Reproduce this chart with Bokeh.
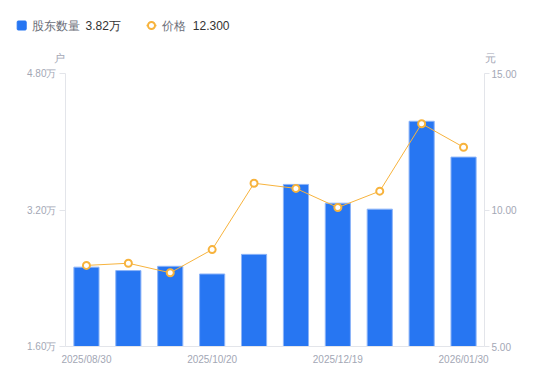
from bokeh.plotting import figure
from bokeh.models import Range1d, LinearAxis, FixedTicker, PrintfTickFormatter, ColumnDataSource
from bokeh.core.properties import value
from bokeh.embed import file_html
from bokeh.resources import INLINE

dates = ["2025/08/30", "2025/09/10", "2025/09/30", "2025/10/20", "2025/10/31",
         "2025/11/20", "2025/12/19", "2025/12/31", "2026/01/20", "2026/01/30"]
holders = [2.53, 2.49, 2.54, 2.45, 2.68, 3.50, 3.28, 3.21, 4.24, 3.82]   # 万户
price = [7.97, 8.05, 7.70, 8.55, 10.98, 10.79, 10.09, 10.69, 13.16, 12.30]
shown_ticks = [0, 3, 6, 9]
left_ticks = [1.6, 3.2, 4.8]
right_ticks = [5, 10, 15]

FONT = "Liberation Sans"
BLUE = "#2776F2"
ORANGE = "#F7B33D"
AXIS = "#E3E5EA"
LABEL = "#A3A7B5"
W = 534
TOP_H = 66

# ---- legend / unit strip (its own root) ----
lg = figure(width=W, height=TOP_H, output_backend="svg", toolbar_location=None,
            x_range=Range1d(0, W), y_range=Range1d(TOP_H, 0),
            x_axis_type=None, y_axis_type=None,
            min_border=0, outline_line_color=None)
lg.grid.visible = False
lg.rect(x=[21.2], y=[25], width=9, height=9, width_units="screen", height_units="screen",
        fill_color=BLUE, line_color=BLUE, border_radius=1)
lg.text(x=[31], y=[25], text=["股东数量"], text_font=value(FONT), text_font_size="12px",
        text_color="#6b6e78", text_baseline="middle")
lg.text(x=[85], y=[25], text=["3.82万"], text_font=value(FONT), text_font_size="12px",
        text_color="#333333", text_baseline="middle")
lg.line(x=[146, 156], y=[25, 25], line_color=ORANGE, line_width=1.5)
lg.scatter(x=[151], y=[25], size=7, marker="circle", fill_color="white",
           line_color=ORANGE, line_width=2)
lg.text(x=[161.5], y=[25], text=["价格"], text_font=value(FONT), text_font_size="12px",
        text_color="#6b6e78", text_baseline="middle")
lg.text(x=[192.3], y=[25], text=["12.300"], text_font=value(FONT), text_font_size="12px",
        text_color="#333333", text_baseline="middle")
lg.text(x=[58.5], y=[57], text=["户"], text_font=value(FONT), text_font_size="11px",
        text_color=LABEL, text_baseline="middle", text_align="center")
lg.text(x=[490], y=[57], text=["元"], text_font=value(FONT), text_font_size="11px",
        text_color=LABEL, text_baseline="middle", text_align="center")

# ---- main chart ----
src = ColumnDataSource(dict(x=list(range(len(dates))), d=dates, h=holders, p=price))

p = figure(width=W, height=301, output_backend="svg", toolbar_location=None,
           x_range=Range1d(-0.5, len(dates) - 0.5), y_range=Range1d(1.6, 4.8),
           min_border_left=65, min_border_right=W - 484, min_border_top=73 - TOP_H,
           min_border_bottom=21, outline_line_color=None)
p.extra_y_ranges = {"price": Range1d(5, 15)}
p.grid.visible = False

p.vbar(x="x", top="h", bottom=1.6, width=0.6, source=src,
       fill_color=BLUE, line_color="#8CB4F8", line_width=1)
p.line(x="x", y="p", source=src, y_range_name="price", line_color=ORANGE, line_width=1)
p.scatter(x="x", y="p", source=src, y_range_name="price", size=7, marker="circle",
          fill_color="white", line_color=ORANGE, line_width=2)

# x axis
xa = p.xaxis[0]
xa.ticker = FixedTicker(ticks=shown_ticks)
xa.major_label_overrides = {i: dates[i] for i in shown_ticks}
xa.major_tick_line_color = None
xa.minor_tick_line_color = None
xa.axis_line_color = AXIS
xa.major_label_text_color = LABEL
xa.major_label_text_font = FONT
xa.major_label_text_font_size = "10px"
xa.major_label_standoff = 1

# left axis
ya = p.yaxis[0]
ya.ticker = FixedTicker(ticks=left_ticks)
ya.formatter = PrintfTickFormatter(format="%.2f万")
ya.axis_line_color = AXIS
ya.major_tick_line_color = AXIS
ya.major_tick_in = 0
ya.major_tick_out = 6
ya.minor_tick_line_color = None
ya.major_label_text_color = LABEL
ya.major_label_text_font = FONT
ya.major_label_text_font_size = "10px"
ya.major_label_standoff = 3

# right axis
ra = LinearAxis(y_range_name="price", ticker=FixedTicker(ticks=right_ticks),
                formatter=PrintfTickFormatter(format="%.2f"))
ra.axis_line_color = AXIS
ra.major_tick_line_color = AXIS
ra.major_tick_in = 0
ra.major_tick_out = 5
ra.minor_tick_line_color = None
ra.major_label_text_color = LABEL
ra.major_label_text_font = FONT
ra.major_label_text_font_size = "10px"
ra.major_label_standoff = 2
p.add_layout(ra, "right")

open("out.html", "w").write(file_html([lg, p], INLINE))
